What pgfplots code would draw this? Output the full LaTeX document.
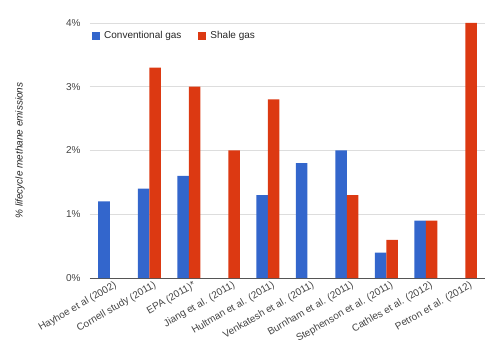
\documentclass[border=0pt]{standalone}
\usepackage{pgfplots}
\pgfplotsset{compat=1.18}
\usepackage{fontspec}
\setmainfont{Liberation Sans}
\definecolor{gblue}{HTML}{3366CC}
\definecolor{gred}{HTML}{DC3912}
\definecolor{gridc}{HTML}{DDDDDD}
\definecolor{axc}{HTML}{555555}
\definecolor{tickc}{HTML}{444444}
\begin{document}
\begin{tikzpicture}
\path[use as bounding box] (-90pt,-75pt) rectangle (410pt,278pt);
\begin{axis}[
  scale only axis, width=395pt, height=255pt,
  at={(0pt,0pt)}, anchor=south west,
  ybar=0pt, bar width=11.5pt,
  xmin=-0.5, xmax=9.5, ymin=0, ymax=4,
  xtick={0,...,9},
  xticklabels={Hayhoe et al (2002),Cornell study (2011),EPA (2011)*,Jiang et al. (2011),Hultman et al. (2011),Venkatesh et al. (2011),Burnham et al. (2011),Stephenson et al. (2011),Cathles et al. (2012),Petron et al. (2012)},
  ytick={0,1,2,3,4},
  yticklabels={0\%,1\%,2\%,3\%,4\%},
  /pgf/number format/assume math mode=true,
  major tick length=0pt,
  axis x line*=bottom, axis y line*=left,
  x axis line style={draw=axc, line width=0.8pt, -},
  y axis line style={draw=none},
  ymajorgrids, grid style={draw=gridc, line width=0.6pt},
  xticklabel style={rotate=30, anchor=north east, font=\fontsize{10}{12}\selectfont, text=tickc, inner sep=1pt, yshift=-3pt, xshift=3pt},
  yticklabel style={font=\fontsize{10}{12}\selectfont, text=tickc, xshift=-6pt},
  ylabel={\% lifecycle methane emissions},
  every axis y label/.style={at={(axis description cs:0,0.5)}, xshift=-70pt, rotate=90, anchor=center, font=\itshape\fontsize{10}{12}\selectfont, text=black!85},
  legend style={at={(rel axis cs:0,1)}, anchor=north west, yshift=-4pt, xshift=-1pt, draw=none, fill=none, legend columns=-1, font=\fontsize{10}{12}\selectfont, text=black!85, /tikz/every even column/.append style={column sep=15pt}},
  legend image code/.code={\fill[#1] (0pt,-4pt) rectangle (8pt,4pt); \path (10pt,0pt);},
]
\addplot[fill=gblue, draw=none] coordinates {(0,1.2) (1,1.4) (2,1.6) (4,1.3) (5,1.8) (6,2.0) (7,0.4) (8,0.9)};
\addplot[fill=gred, draw=none] coordinates {(1,3.3) (2,3.0) (3,2.0) (4,2.8) (6,1.3) (7,0.6) (8,0.9) (9,4.0)};
\legend{Conventional gas, Shale gas}
\end{axis}
\end{tikzpicture}
\end{document}
